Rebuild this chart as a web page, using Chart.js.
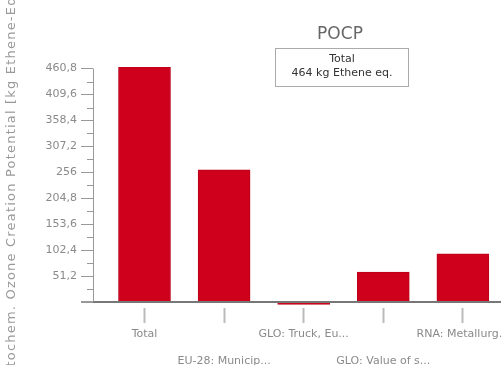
<!DOCTYPE html>
<html>
<head>
<meta charset="utf-8">
<script src="https://cdn.jsdelivr.net/npm/chart.js@4/dist/chart.umd.min.js"></script>
<style>
  html, body { margin: 0; padding: 0; background: #fff; overflow: hidden; }
  #wrap { width: 501px; height: 365px; overflow: hidden; position: relative; }
  canvas { display: block; }
</style>
</head>
<body>
<div id="wrap"><canvas id="grafica" width="620" height="380"></canvas></div>
<script>
// Datos (POCP por contribuyente).
const categorias = ['Total', 'EU-28: Municip...', 'GLO: Truck, Eu...', 'GLO: Value of s...', 'RNA: Metallurg...', 'RER: Electrici...'];
const valoresPocp = [464, 261, -5, 59, 95, 40];
const ticksMayores = [0, 51.2, 102.4, 153.6, 204.8, 256, 307.2, 358.4, 409.6, 460.8];
const ticksMenores = [25.6, 76.8, 128, 179.2, 230.4, 281.6, 332.8, 384, 435.2];
const titulo = 'POCP';
const cajaTotal = ['Total', '464 kg Ethene eq.'];
const tituloEjeY = 'Photochem. Ozone Creation Potential [kg Ethene-Equiv.]';

const rojo = '#cf001c';
const fuente = 'DejaVu Sans';

// Formato con coma decimal, como en el original; el cero va sin etiqueta.
function formatoTick(v) {
    if (v === 0) return '';
    return String(Number(v.toFixed(1))).replace('.', ',');
}

// Dibuja título, caja de total, eje Y, ticks menores y el texto vertical.
const decoracion = {
    id: 'decoracion',
    afterDraw(chart) {
        const ctx = chart.ctx;
        const y = chart.scales.y;
        const left = chart.chartArea.left;

        ctx.save();
        // línea del eje Y desde 0 hasta el último tick mayor
        ctx.strokeStyle = '#999';
        ctx.lineWidth = 1;
        ctx.beginPath();
        ctx.moveTo(left + 0.5, y.getPixelForValue(ticksMayores[ticksMayores.length - 1]));
        ctx.lineTo(left + 0.5, y.getPixelForValue(0));
        ctx.stroke();

        // ticks menores
        ticksMenores.forEach(v => {
            const py = Math.round(y.getPixelForValue(v)) + 0.5;
            ctx.beginPath();
            ctx.moveTo(left - 6, py);
            ctx.lineTo(left, py);
            ctx.stroke();
        });

        // título
        ctx.fillStyle = '#666';
        ctx.font = '17px "' + fuente + '"';
        ctx.textAlign = 'center';
        ctx.textBaseline = 'alphabetic';
        ctx.fillText(titulo, 340, 39);

        // caja con el total
        ctx.strokeStyle = '#aaa';
        ctx.strokeRect(275.5, 48.5, 133, 38);
        ctx.fillStyle = '#333';
        ctx.font = '11px "' + fuente + '"';
        ctx.textBaseline = 'middle';
        ctx.fillText(cajaTotal[0], 342, 59);
        ctx.fillText(cajaTotal[1], 342, 73);

        // título del eje Y (recortado por el borde como en la referencia)
        ctx.font = '13px "' + fuente + '"';
        ctx.letterSpacing = '1.2px';
        const prefijo = ctx.measureText('Photochem. Ozone Creation ').width;
        ctx.translate(12, 177 + prefijo);
        ctx.rotate(-Math.PI / 2);
        ctx.textAlign = 'left';
        ctx.fillStyle = '#999';
        ctx.fillText(tituloEjeY, 0, 0);
        ctx.restore();
    }
};

const ctx = document.getElementById('grafica').getContext('2d');
const chart = new Chart(ctx, {
    type: 'bar',
    data: {
        datasets: [{
            data: valoresPocp.map((v, i) => ({ x: i, y: v })),
            backgroundColor: rojo,
            borderColor: '#b8001a',
            borderWidth: 1,
            barThickness: 52
        }]
    },
    options: {
        responsive: false,
        animation: false,
        devicePixelRatio: 1,
        layout: { padding: { top: 67, left: 0, right: 0, bottom: 7 } },
        plugins: { legend: { display: false }, tooltip: { enabled: false } },
        scales: {
            x: {
                type: 'linear',
                min: -0.647,
                max: 5.974,
                offset: false,
                afterBuildTicks: s => { s.ticks = categorias.map((c, i) => ({ value: i })); },
                grid: { drawOnChartArea: false, offset: false, tickLength: 15, tickColor: '#bbb', tickWidth: 2 },
                border: { display: false },
                ticks: {
                    autoSkip: false,
                    maxRotation: 0,
                    padding: -2,
                    color: '#8a8a8a',
                    font: { family: fuente, size: 11, lineHeight: 27 / 11 },
                    callback: v => (v % 2 ? ['', categorias[v]] : [categorias[v], ''])
                }
            },
            y: {
                min: -12,
                max: 464,
                afterBuildTicks: s => { s.ticks = ticksMayores.map(v => ({ value: v })); },
                afterFit: s => { s.width = 93; },
                border: { display: false },
                grid: {
                    color: c => (c.tick && c.tick.value === 0 ? '#777' : 'rgba(0,0,0,0)'),
                    lineWidth: c => (c.tick && c.tick.value === 0 ? 2 : 1),
                    tickColor: '#999',
                    tickLength: 12
                },
                ticks: {
                    padding: 4,
                    color: '#8a8a8a',
                    font: { family: fuente, size: 11 },
                    callback: v => formatoTick(v)
                }
            }
        }
    },
    plugins: [decoracion]
});
</script>
</body>
</html>
